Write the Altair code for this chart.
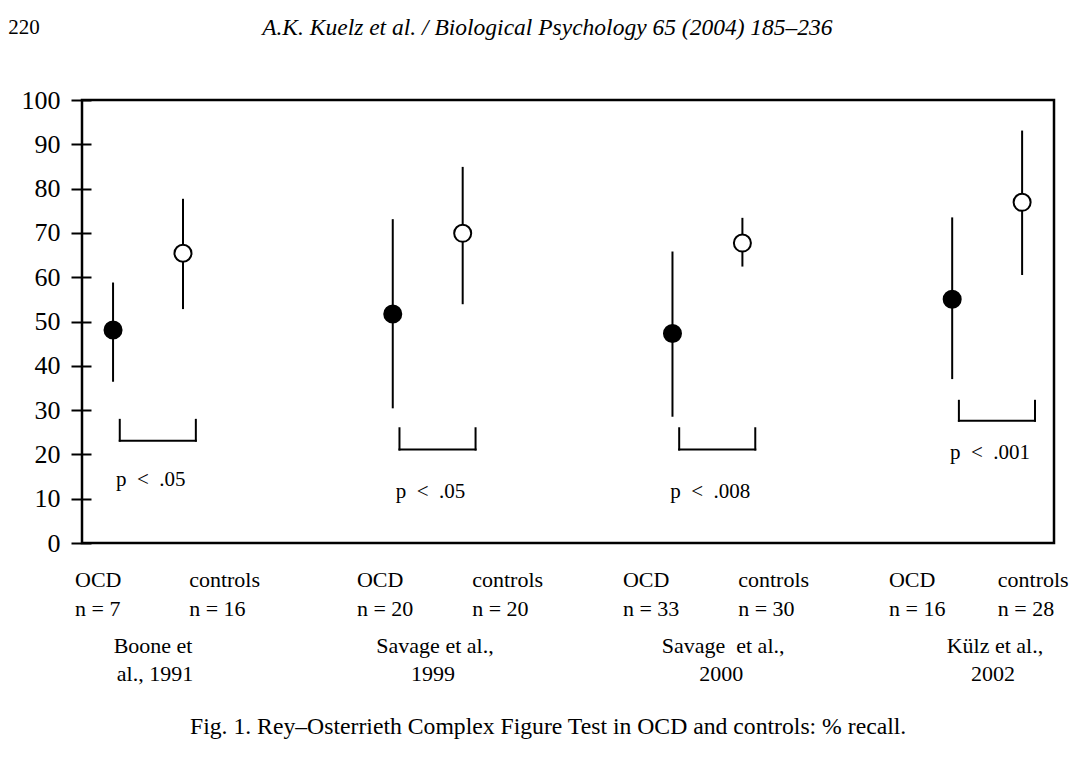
import altair as alt
import pandas as pd

# ---------------- data ----------------
studies = ["Boone et al., 1991", "Savage et al., 1999", "Savage et al., 2000", "Külz et al., 2002"]
ocd_mean = [48.1, 51.7, 47.3, 55.0]
ocd_low = [36.4, 30.4, 28.5, 37.0]
ocd_high = [58.8, 73.1, 65.8, 73.5]
ctrl_mean = [65.4, 69.9, 67.7, 76.9]
ctrl_low = [52.8, 53.9, 62.4, 60.5]
ctrl_high = [77.7, 84.9, 73.4, 93.1]
ocd_n = [7, 20, 33, 16]
ctrl_n = [16, 20, 30, 28]
p_texts = ["p < .05", "p < .05", "p < .008", "p < .001"]
bracket_top = [27.8, 25.9, 25.9, 32.1]
bracket_bottom = [23.1, 21.1, 21.1, 27.6]
p_level = [14.2, 11.6, 11.6, 20.3]
name_line1 = ["Boone et", "Savage et al.,", "Savage  et al.,", "Külz et al.,"]
name_line2 = ["al., 1991", "1999", "2000", "2002"]
y_ticks = list(range(0, 101, 10))
header_page = "220"
header_title = "A.K. Kuelz et al. / Biological Psychology 65 (2004) 185–236"
caption = "Fig. 1. Rey–Osterrieth Complex Figure Test in OCD and controls: % recall."

# ---------------- layout ----------------
X_DOMAIN = [-0.111, 3.364]
CTRL_OFFSET = 0.25
BR_L, BR_R = 0.024, 0.296
P_OFF = 0.135
FONT = "Liberation Serif"
NB = "\u00a0"

ocd_label_x = [-0.136, 0.872, 1.823, 2.774]
ctrl_label_x = [0.272, 1.284, 2.235, 3.163]
name_x = [0.143, 1.151, 2.181, 3.153]
year_x = [0.150, 1.144, 2.174, 3.146]
ROW1, ROW2, ROW3, ROW4 = -8.35, -14.9, -23.2, -29.5

rows = []
for i in range(len(studies)):
    rows.append(dict(pos=i, mean=ocd_mean[i], low=ocd_low[i], high=ocd_high[i], group="OCD"))
    rows.append(dict(pos=i + CTRL_OFFSET, mean=ctrl_mean[i], low=ctrl_low[i], high=ctrl_high[i], group="controls"))
df = pd.DataFrame(rows)

bdf = pd.DataFrame(dict(
    pl=[i + BR_L for i in range(len(studies))],
    pr=[i + BR_R for i in range(len(studies))],
    top=bracket_top, bot=bracket_bottom,
    px=[i + P_OFF for i in range(len(studies))],
    py=p_level,
    ptxt=[t.replace(" ", NB * 2) for t in p_texts],
))

left_labels = []
for i in range(len(studies)):
    left_labels.append(dict(x=ocd_label_x[i], y=ROW1, t="OCD"))
    left_labels.append(dict(x=ocd_label_x[i], y=ROW2, t=f"n = {ocd_n[i]}"))
    left_labels.append(dict(x=ctrl_label_x[i], y=ROW1, t="controls"))
    left_labels.append(dict(x=ctrl_label_x[i], y=ROW2, t=f"n = {ctrl_n[i]}"))
ldf = pd.DataFrame(left_labels)

center_labels = []
for i in range(len(studies)):
    center_labels.append(dict(x=name_x[i], y=ROW3, t=name_line1[i].replace("  ", NB * 2)))
    center_labels.append(dict(x=year_x[i], y=ROW4, t=name_line2[i]))
cdf = pd.DataFrame(center_labels)

hdf = pd.DataFrame([
    dict(x=-0.375, y=116.3, t=header_page, kind="page"),
    dict(x=0.533, y=116.3, t=header_title, kind="title"),
    dict(x=0.275, y=-41.5, t=caption, kind="caption"),
])

xscale = alt.Scale(domain=X_DOMAIN, nice=False, zero=False)
yscale = alt.Scale(domain=[0, 100], nice=False, zero=False)
yaxis = alt.Axis(values=y_ticks, domain=False, grid=False, ticks=True, tickSize=20,
                 tickWidth=2, tickColor="black", offset=-9, labelFont=FONT,
                 labelFontSize=26, labelColor="black", labelPadding=11,
                 labelOverlap=False, labelFlush=False, title=None)


def X(f):
    return alt.X(f, type="quantitative", scale=xscale, axis=None, title=None)


def Y(f):
    return alt.Y(f, type="quantitative", scale=yscale, axis=yaxis, title=None)


errbars = alt.Chart(df).mark_rule(color="black", strokeWidth=2).encode(
    x=X("pos"), y=Y("low"), y2="high")

points = alt.Chart(df).mark_point(shape="circle", filled=True, stroke="black",
                                  strokeWidth=2, opacity=1, size=290).encode(
    x=X("pos"), y=Y("mean"),
    fill=alt.Fill("group:N", scale=alt.Scale(domain=["OCD", "controls"], range=["black", "white"]), legend=None))

br_h = alt.Chart(bdf).mark_rule(color="black", strokeWidth=2, strokeCap="square").encode(
    x=X("pl"), x2="pr", y=Y("bot"))
br_l = alt.Chart(bdf).mark_rule(color="black", strokeWidth=2, strokeCap="square").encode(
    x=X("pl"), y=Y("bot"), y2="top")
br_r = alt.Chart(bdf).mark_rule(color="black", strokeWidth=2, strokeCap="square").encode(
    x=X("pr"), y=Y("bot"), y2="top")
ptext = alt.Chart(bdf).mark_text(font=FONT, fontSize=21, align="center", baseline="middle",
                                 color="black").encode(x=X("px"), y=Y("py"), text="ptxt:N")

ltext = alt.Chart(ldf).mark_text(font=FONT, fontSize=22, align="left", baseline="middle",
                                 color="black").encode(x=X("x"), y=Y("y"), text="t:N")
ctext = alt.Chart(cdf).mark_text(font=FONT, fontSize=22, align="center", baseline="middle",
                                 color="black").encode(x=X("x"), y=Y("y"), text="t:N")

page_t = alt.Chart(hdf[hdf.kind == "page"]).mark_text(font=FONT, fontSize=21, align="left",
                                                      baseline="middle", color="black").encode(
    x=X("x"), y=Y("y"), text="t:N")
title_t = alt.Chart(hdf[hdf.kind == "title"]).mark_text(font=FONT, fontSize=23.5, fontStyle="italic",
                                                        align="left", baseline="middle", color="black").encode(
    x=X("x"), y=Y("y"), text="t:N")
cap_t = alt.Chart(hdf[hdf.kind == "caption"]).mark_text(font=FONT, fontSize=23.7, align="left",
                                                        baseline="middle", color="black").encode(
    x=X("x"), y=Y("y"), text="t:N")

chart = alt.layer(errbars, points, br_h, br_l, br_r, ptext, ltext, ctext, page_t, title_t, cap_t).properties(
    width=972, height=443,
    autosize=alt.AutoSizeParams(type="none"),
    padding={"left": 74, "top": 92, "right": 15, "bottom": 200},
    background="white",
).configure_view(stroke="black", strokeWidth=2.5)

chart.save("out.html", embed_options={"renderer": "svg", "actions": False})
